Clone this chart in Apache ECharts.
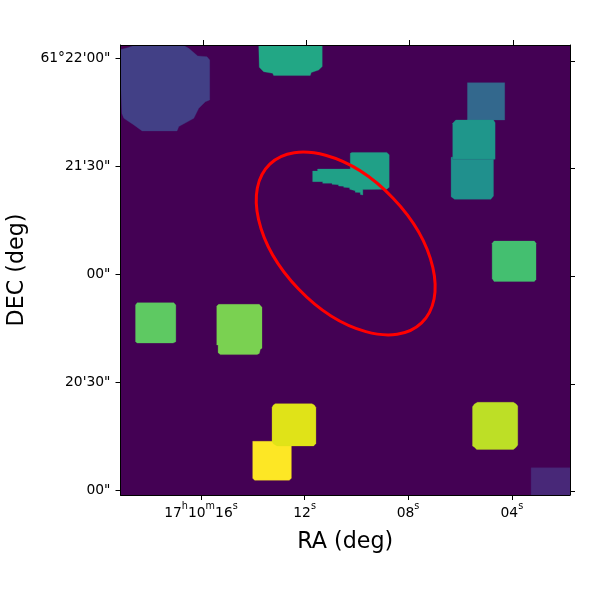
<!DOCTYPE html>
<html><head><meta charset="utf-8">
<style>html,body{margin:0;padding:0;background:#fff}#c{width:600px;height:600px}</style>
<script src="https://cdn.jsdelivr.net/npm/echarts@6/dist/echarts.min.js"></script>
</head><body><div id="c"></div>
<script>
// Segmentation regions, outlines in image pixels of the 300x300 map
const regionNames = ['blobTopLeft','topTeal','steel','upperTeal','lowerTeal','centerTail','greenRight','greenLeft','lightGreen','yellow','yellowGreen','lime','purpleCorner'];
const regionColors = ['#424086','#22a785','#33688d','#1f968b','#20908d','#20a087','#44bf70','#5ec962','#7ad151','#fde725','#e0e318','#bddf26','#482878'];
const blobTopLeft = [[0,297],[5,298.4],[9.7,300],[41.4,300],[45.2,297.8],[51.2,292.7],[57.4,292.2],[59.2,290],[59.2,263.3],[56.3,262.2],[51.9,257.8],[48.6,251.1],[38.6,245.6],[37.4,242.7],[14.1,242.7],[8.6,246.7],[1.9,251.1],[0.6,254.4],[0,270]];
const topTeal = [[91.9,300],[134.3,300],[134.3,285.6],[131.9,283.3],[127,281.6],[126.3,279.6],[101.9,279.6],[101.2,281.1],[95.2,282.2],[92.3,285.1]];
const steel = [[231.2,274.9],[256.1,274.9],[256.1,250],[231.2,250]];
const upperTeal = [[221.4,247.8],[223.4,250],[248.6,250],[249.7,248.2],[249.7,223.8],[221.4,223.8]];
const lowerTeal = [[220.3,225.1],[221.4,225.4],[221.4,223.8],[248.6,223.8],[248.6,199.3],[246.8,197.1],[222.6,197.1],[220.3,198.9]];
const centerTail = [[127.9,216],[131.2,216],[131.2,217.3],[153,217.3],[153,227.8],[154.1,228.4],[177.4,228.4],[179,226.9],[179,205.1],[177.4,203.8],[161.4,203.6],[161.4,200],[159.7,200.4],[159.7,201.6],[156.3,201.8],[156.3,202.9],[152.6,203.8],[152.6,204.9],[148.6,205.1],[148.6,205.8],[145.2,206],[145.2,206.9],[140.8,207.1],[140.8,207.8],[134.6,207.8],[134.6,208.9],[127.9,208.9]];
const greenRight = [[247.7,167.8],[249,169.3],[275.9,169.3],[277,167.8],[277,143.8],[275.9,142.4],[249,142.4],[247.7,144.4]];
const greenLeft = [[9.7,126.7],[10.8,128.2],[35.2,128.2],[36.6,126.7],[36.6,102.2],[34.8,101.3],[10.8,101.3],[9.7,102.2]];
const lightGreen = [[63.9,126],[65.2,127.1],[92.3,127.1],[94.1,125.1],[94.1,97.8],[93,97.1],[92.3,94.4],[90.8,93.6],[66.3,93.6],[64.8,94.9],[64.8,100],[63.9,100]];
const yellow = [[87.9,35.8],[113.7,35.8],[113.7,11.1],[112.3,9.8],[89.2,9.8],[87.9,11.1]];
const yellowGreen = [[100.8,58.4],[101.7,60],[103,60.9],[127.4,60.9],[129,60],[130.1,58.4],[130.1,34.4],[128.6,32.7],[104.1,32.7],[101.9,34],[100.8,35.6]];
const lime = [[234.6,58.9],[235.9,60.7],[237.9,61.8],[261.9,61.8],[263.7,60.7],[264.8,59.3],[264.8,33.3],[263.7,31.8],[261.9,30.4],[237.4,30.4],[235.9,31.8],[234.6,32.7]];
const purpleCorner = [[273.7,18.2],[300,18.2],[300,0],[273.7,0]];
const regionOutlines = [blobTopLeft,topTeal,steel,upperTeal,lowerTeal,centerTail,greenRight,greenLeft,lightGreen,yellow,yellowGreen,lime,purpleCorner];

// Aperture ellipse: centre x, centre y, semi axes, angle (image pixels, degrees)
const apertureCentre = [150.3, 167.7];
const apertureSemiAxes = [73.3, 43.7];
const apertureAngleDeg = -46.3;

// Coordinate ticks of the sky grid at their image-pixel positions
const raTickLabels = ['17h10m16s','12s','08s','04s'];
const raBottomTicks = [53.7,122.9,191.9,261.2];
const raTopTicks = [55.2,123.9,193,262];
const decTickLabels = ['00"','20\'30"','00"','21\'30"','61°22\'00"'];
const decLeftTicks = [3.3,75.1,147.2,219.3,291.1];
const decRightTicks = [2.5,73.7,145.6,217.8,289.5];

const F = 'DejaVu Sans';
const fmtRa = s => {
  return s.replace(/(\d+)([hms])/g, '{n|$1}{s|$2}');
};
const chart = echarts.init(document.getElementById('c'), null, {renderer:'canvas'});
const spine = {show:true, onZero:false, lineStyle:{color:'#000', width:1}};
const tick = (vals) => ({show:true, length:5, inside:false, customValues:vals, lineStyle:{color:'#000', width:1}});
chart.setOption({
  animation:false,
  backgroundColor:'#fff',
  grid:{left:120.5, top:45, width:449.5, height:450, show:true, backgroundColor:'#440154', borderWidth:0, outerBoundsMode:'none', containLabel:false},
  xAxis:[
    {type:'value', position:'bottom', min:0, max:300, z:10, splitLine:{show:false}, axisLine:spine,
     axisTick:tick(raBottomTicks),
     axisLabel:{show:true, margin:5, customValues:raBottomTicks,
       formatter:(v)=>fmtRa(raTickLabels[raBottomTicks.indexOf(v)]),
       rich:{n:{fontFamily:F,fontSize:13.89,color:'#000',lineHeight:20,verticalAlign:'bottom'},
             s:{fontFamily:F,fontSize:9.7,color:'#000',lineHeight:20,verticalAlign:'top',padding:[1,0,5,0]}}},
     name:'RA (deg)', nameLocation:'middle', nameGap:36,
     nameTextStyle:{fontFamily:F,fontSize:22.2,color:'#000'}},
    {type:'value', position:'top', min:0, max:300, z:10, splitLine:{show:false}, axisLine:spine,
     axisTick:tick(raTopTicks), axisLabel:{show:false}}
  ],
  yAxis:[
    {type:'value', position:'left', min:0, max:300, z:10, splitLine:{show:false}, axisLine:spine,
     axisTick:tick(decLeftTicks),
     axisLabel:{show:true, margin:10, customValues:decLeftTicks, fontFamily:F, fontSize:13.89, color:'#000',
       formatter:(v)=>decTickLabels[decLeftTicks.indexOf(v)]},
     name:'DEC (deg)', nameLocation:'middle', nameGap:92, nameRotate:90,
     nameTextStyle:{fontFamily:F,fontSize:22.2,color:'#000'}},
    {type:'value', position:'right', min:0, max:300, z:10, splitLine:{show:false}, axisLine:spine,
     axisTick:tick(decRightTicks), axisLabel:{show:false}}
  ],
  series:[
    {type:'custom', coordinateSystem:'cartesian2d', silent:true, z:2, clip:true,
     data:regionNames.map((n,i)=>({name:n,value:[i]})),
     encode:{x:-1,y:-1},
     renderItem:(p,api)=>{
       const i=p.dataIndex;
       return {type:'polygon', x:0.5, shape:{points:regionOutlines[i].map(q=>api.coord(q))},
               style:{fill:regionColors[i], stroke:regionColors[i], lineWidth:0.3}};
     }},
    {type:'custom', coordinateSystem:'cartesian2d', silent:true, z:3,
     data:[[apertureCentre[0],apertureCentre[1],apertureSemiAxes[0],apertureSemiAxes[1],apertureAngleDeg]],
     encode:{x:0,y:1},
     renderItem:(p,api)=>{
       const c=api.coord([api.value(0),api.value(1)]);
       const sz=api.size([api.value(2),api.value(3)]);
       return {type:'ellipse', x:c[0], y:c[1], rotation:api.value(4)*Math.PI/180,
               shape:{cx:0,cy:0,rx:sz[0],ry:sz[1]},
               style:{fill:null, stroke:'#ff0000', lineWidth:3}};
     }}
  ]
});
</script></body></html>
